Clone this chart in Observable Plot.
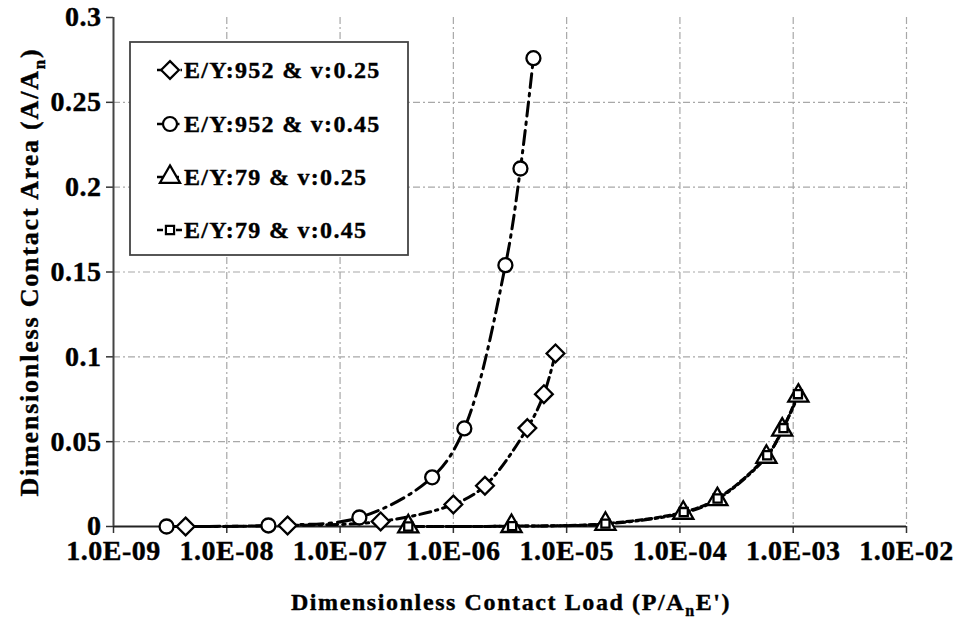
<!DOCTYPE html>
<html>
<head>
<meta charset="utf-8">
<script src="https://cdn.jsdelivr.net/npm/d3@7"></script>
<script src="https://cdn.jsdelivr.net/npm/@observablehq/plot@0.6"></script>
<style>
  html, body { margin: 0; padding: 0; background: white; }
</style>
</head>
<body>
<div id="chart"></div>
<script>
// ---- Data ----
const xTicks = [1e-9, 1e-8, 1e-7, 1e-6, 1e-5, 1e-4, 1e-3, 1e-2];
const xTickLabels = ["1.0E-09", "1.0E-08", "1.0E-07", "1.0E-06", "1.0E-05", "1.0E-04", "1.0E-03", "1.0E-02"];
const yTicks = [0, 0.05, 0.1, 0.15, 0.2, 0.25, 0.3];
const yTickLabels = ["0", "0.05", "0.1", "0.15", "0.2", "0.25", "0.3"];

const seriesNames = ["E/Y:952 & v:0.25", "E/Y:952 & v:0.45", "E/Y:79 & v:0.25", "E/Y:79 & v:0.45"];

// E/Y:952 & v:0.25 (diamonds)
const s1x = [4.33e-9, 3.44e-8, 2.28e-7, 1.0e-6, 1.9e-6, 4.5e-6, 6.3e-6, 7.97e-6];
const s1y = [0.0, 0.0006, 0.003, 0.013, 0.024, 0.058, 0.078, 0.102];
// E/Y:952 & v:0.45 (circles)
const s2x = [2.94e-9, 2.33e-8, 1.48e-7, 6.5e-7, 1.25e-6, 2.88e-6, 3.91e-6, 5.09e-6];
const s2y = [0.0, 0.0006, 0.0053, 0.029, 0.0578, 0.154, 0.211, 0.276];
// E/Y:79 & v:0.25 (triangles)
const s3x = [4.0e-7, 3.26e-6, 2.2e-5, 1.07e-4, 2.14e-4, 5.8e-4, 8.0e-4, 1.11e-3];
const s3y = [0.0, 0.0002, 0.0015, 0.008, 0.016, 0.041, 0.057, 0.077];
// E/Y:79 & v:0.45 (squares)
const s4x = [4.0e-7, 3.3e-6, 2.2e-5, 1.08e-4, 2.15e-4, 5.9e-4, 8.2e-4, 1.1e-3];
const s4y = [0.0, 0.0002, 0.0017, 0.0085, 0.0165, 0.042, 0.058, 0.078];

const toRows = (xs, ys) => xs.map((x, i) => ({x, y: ys[i]}));
const d1 = toRows(s1x, s1y), d2 = toRows(s2x, s2y), d3r = toRows(s3x, s3y), d4 = toRows(s4x, s4y);

const styles = [
  {symbol: "diamond2", r: 8, dash: "11,5,2.5,5"},
  {symbol: "circle", r: 7, dash: "14,6,2.5,6"},
  {symbol: "triangle", r: 7.5, dash: "9,4,2.5,4,2.5,4"},
  {symbol: "square", r: 4.6, dash: "6,3.5"}
];
const datasets = [d1, d2, d3r, d4];

const font = "'Liberation Serif', 'Times New Roman', serif";
const xFmt = d => xTickLabels[xTicks.findIndex(t => Math.abs(Math.log10(t) - Math.log10(d)) < 1e-6)];
const yFmt = d => yTickLabels[yTicks.findIndex(t => Math.abs(t - d) < 1e-9)];

const chart = Plot.plot({
  width: 964,
  height: 621,
  marginLeft: 113,
  marginRight: 58,
  marginTop: 17,
  marginBottom: 95,
  style: {fontFamily: font, fontSize: "28px", fontWeight: "bold", background: "white", color: "black"},
  x: {type: "log", domain: [1e-9, 1e-2]},
  y: {domain: [0, 0.3]},
  marks: [
    Plot.gridX(xTicks.slice(1), {stroke: "#a8a8a8", strokeOpacity: 1, strokeWidth: 1.2, strokeDasharray: "7,3,2,3"}),
    Plot.gridY(yTicks.slice(1, -1), {stroke: "#a8a8a8", strokeOpacity: 1, strokeWidth: 1.2, strokeDasharray: "7,3,2,3"}),
    Plot.axisX(xTicks, {tickFormat: xFmt, tickSize: 7, tickPadding: 7, label: null, stroke: "#333", strokeWidth: 1.5}),
    Plot.axisY(yTicks, {tickFormat: yFmt, tickSize: 7, tickPadding: 5, label: null, stroke: "#333", strokeWidth: 1.5}),
    Plot.ruleY([0], {stroke: "#222", strokeWidth: 2}),
    Plot.ruleX([1e-9], {stroke: "#444", strokeWidth: 2}),
    ...datasets.map((d, i) => Plot.line(d, {x: "x", y: "y", curve: "catmull-rom", stroke: "black", strokeWidth: 3, strokeDasharray: styles[i].dash})),
    ...datasets.map((d, i) => Plot.dot(d, {x: "x", y: "y", symbol: () => styles[i].symbol, r: styles[i].r, stroke: "black", fill: "white", strokeWidth: 2.3}))
  ]
});

document.getElementById("chart").appendChild(chart);

const svg = d3.select(chart);

// axis tick label font (only the axis texts exist at this point)
svg.selectAll("text").style("font-size", "28px").style("font-family", font).style("font-weight", "bold")
  .style("letter-spacing", "0.5px").style("stroke", "black").style("stroke-width", "0.4px");

// Axis titles
const xt = svg.append("text")
  .attr("x", 511).attr("y", 610)
  .attr("text-anchor", "middle")
  .style("font-family", font).style("font-size", "24px").style("font-weight", "bold").style("letter-spacing", "1.6px")
  .style("stroke", "black").style("stroke-width", "0.4px");
xt.append("tspan").text("Dimensionless Contact Load (P/A");
xt.append("tspan").attr("dy", 6).style("font-size", "16px").text("n");
xt.append("tspan").attr("dy", -6).text("E')");

const yt = svg.append("text")
  .attr("transform", "translate(38,272) rotate(-90)")
  .attr("text-anchor", "middle")
  .style("font-family", font).style("font-size", "26px").style("font-weight", "bold").style("letter-spacing", "1.8px")
  .style("stroke", "black").style("stroke-width", "0.4px");
yt.append("tspan").text("Dimensionless Contact Area (A/A");
yt.append("tspan").attr("dy", 7).style("font-size", "17px").text("n");
yt.append("tspan").attr("dy", -7).text(")");

// Legend
const lg = svg.append("g");
lg.append("rect").attr("x", 130).attr("y", 42).attr("width", 278).attr("height", 213)
  .attr("fill", "white").attr("stroke", "#444").attr("stroke-width", 1.8);
const rowY = [70, 124, 177, 230];
const symMap = {diamond2: d3.symbolDiamond2, circle: d3.symbolCircle, triangle: d3.symbolTriangle, square: d3.symbolSquare};
seriesNames.forEach((name, i) => {
  const y = rowY[i];
  lg.append("line").attr("x1", 157).attr("x2", 182).attr("y1", y).attr("y2", y)
    .attr("stroke", "black").attr("stroke-width", 2.4).attr("stroke-dasharray", styles[i].dash);
  const size = Math.PI * styles[i].r * styles[i].r;
  lg.append("path").attr("d", d3.symbol(symMap[styles[i].symbol], size)())
    .attr("transform", `translate(170,${y})`)
    .attr("fill", "white").attr("stroke", "black").attr("stroke-width", 2.2);
  lg.append("text").attr("x", 184).attr("y", y + 8).attr("text-anchor", "start").text(name)
    .style("font-family", font).style("font-size", "24px").style("font-weight", "bold").style("letter-spacing", "1.3px")
    .style("stroke", "black").style("stroke-width", "0.4px");
});
</script>
</body>
</html>
